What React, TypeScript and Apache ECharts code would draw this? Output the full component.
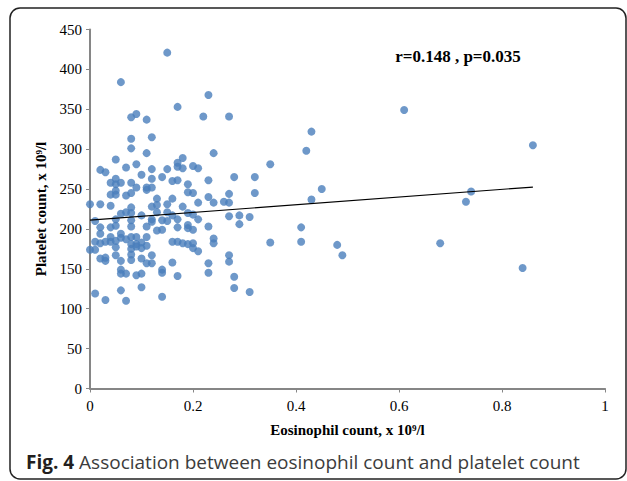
import React, { useEffect, useRef } from "react";
import * as echarts from "echarts";

// Eosinophil count columns (x 10^9/l) and the platelet counts read at each column
const eosinophilColumns = [
  0, 0.01, 0.02, 0.03, 0.04, 0.05, 0.06, 0.07, 0.08, 0.09,
  0.1, 0.11, 0.12, 0.13, 0.14, 0.15, 0.16, 0.17, 0.18, 0.19,
  0.2, 0.21, 0.22, 0.23, 0.24, 0.26, 0.27, 0.28, 0.29, 0.31,
  0.32, 0.35, 0.41, 0.42, 0.43, 0.45, 0.48, 0.49, 0.61, 0.68,
  0.73, 0.74, 0.84, 0.86,
];

const plateletColumns = [
  [231, 174],
  [210, 184, 174, 119],
  [274, 231, 202, 194, 182, 163],
  [271, 184, 164, 160, 111],
  [258, 243, 229, 202, 190, 184],
  [287, 263, 256, 248, 243, 212, 204, 185, 177, 167],
  [384, 258, 219, 194, 189, 160, 149, 144, 123],
  [277, 242, 221, 187, 144, 110],
  [340, 313, 301, 258, 245, 227, 220, 211, 203, 190, 181, 175, 168, 161],
  [344, 281, 252, 190, 181, 178, 142],
  [268, 217, 183, 176, 163, 144, 127],
  [337, 295, 252, 249, 203, 190, 179, 157],
  [315, 275, 263, 252, 228, 212, 209, 167, 157],
  [238, 230, 221, 198],
  [265, 211, 199, 149, 145, 115],
  [421, 275, 231, 221, 210],
  [260, 238, 217, 184, 158],
  [353, 283, 278, 261, 212, 202, 184, 141],
  [289, 276, 228, 182],
  [256, 246, 220, 205, 201, 181],
  [279, 245, 218, 199, 182, 176],
  [276, 233, 212, 172],
  [341],
  [368, 261, 240, 203, 157, 145],
  [295, 233, 188, 182],
  [234],
  [341, 244, 233, 216, 167, 159],
  [265, 140, 126],
  [217, 206],
  [215, 121],
  [265, 245],
  [281, 183],
  [202, 184],
  [298],
  [322, 237],
  [250],
  [180],
  [167],
  [349],
  [182],
  [234],
  [247],
  [151],
  [305],
];

// Linear trend line end points
const trendX = [0, 0.86];
const trendY = [211, 252.5];

const xTicks = [0, 0.2, 0.4, 0.6, 0.8, 1];
const yTicks = [0, 50, 100, 150, 200, 250, 300, 350, 400, 450];

const annotation = "r=0.148 , p=0.035";
const xTitle = "Eosinophil count, x 10⁹/l";
const yTitle = "Platelet count, x 10⁹/l";
const captionBold = "Fig. 4";
const captionText = " Association between eosinophil count and platelet count";

const SERIF = "'Liberation Serif', 'Times New Roman', serif";
const SANS = "'Open Sans', 'Noto Sans', sans-serif";

export default function App() {
  const ref = useRef<HTMLDivElement>(null);

  useEffect(() => {
    if (!ref.current) return;
    const chart = echarts.init(ref.current, undefined, { renderer: "svg" });

    const points: number[][] = [];
    eosinophilColumns.forEach((x, i) => {
      plateletColumns[i].forEach((y) => points.push([x, y]));
    });

    chart.setOption({
      animation: false,
      backgroundColor: "#ffffff",
      grid: { left: 90, right: 22, top: 29.5, bottom: 92.5, containLabel: false },
      xAxis: {
        type: "value",
        min: xTicks[0],
        max: xTicks[xTicks.length - 1],
        interval: 0.2,
        name: xTitle,
        nameLocation: "middle",
        nameGap: 34,
        nameTextStyle: { fontFamily: SERIF, fontWeight: "bold", fontSize: 15, color: "#000" },
        axisLine: { show: true, onZero: false, lineStyle: { color: "#868686", width: 2 } },
        axisTick: { show: true, length: 4, lineStyle: { color: "#868686", width: 1 } },
        splitLine: { show: false },
        axisLabel: { fontFamily: SERIF, fontSize: 15, color: "#000", margin: 10 },
      },
      yAxis: {
        type: "value",
        min: yTicks[0],
        max: yTicks[yTicks.length - 1],
        interval: 50,
        name: yTitle,
        nameLocation: "middle",
        nameGap: 40,
        nameTextStyle: { fontFamily: SERIF, fontWeight: "bold", fontSize: 15, color: "#000" },
        axisLine: { show: true, lineStyle: { color: "#868686", width: 2 } },
        axisTick: { show: true, length: 4, lineStyle: { color: "#868686", width: 1 } },
        splitLine: { show: false },
        axisLabel: { fontFamily: SERIF, fontSize: 15, color: "#000", margin: 8 },
      },
      graphic: [
        {
          type: "rect",
          shape: { x: 10, y: 8, width: 616, height: 471, r: 10 },
          style: { fill: "none", stroke: "#222", lineWidth: 1.5 },
          silent: true,
        },
        {
          type: "text",
          x: 458,
          y: 56,
          style: {
            text: annotation,
            fontFamily: SERIF,
            fontWeight: "bold",
            fontSize: 17,
            fill: "#000",
            align: "center",
            verticalAlign: "middle",
          },
        },
        {
          type: "text",
          x: 26,
          y: 462,
          style: {
            text: `{b|${captionBold}}{n|${captionText}}`,
            verticalAlign: "middle",
            align: "left",
            rich: {
              b: { fontFamily: SANS, fontWeight: "bold", fontSize: 19, fill: "#231f20" },
              n: { fontFamily: SANS, fontSize: 19, fill: "#3c3c3c" },
            },
          },
        },
      ],
      series: [
        {
          type: "scatter",
          data: points,
          symbol: "circle",
          symbolSize: 8,
          itemStyle: { color: "#4A7EBB" },
          z: 3,
        },
        {
          type: "line",
          data: trendX.map((x, i) => [x, trendY[i]]),
          showSymbol: false,
          symbol: "none",
          lineStyle: { color: "#000", width: 1.2 },
          z: 4,
        },
      ],
    });

    return () => chart.dispose();
  }, []);

  return (
    <div
      ref={ref}
      style={{ position: "absolute", left: 0, top: 0, width: 627, height: 481 }}
    />
  );
}
